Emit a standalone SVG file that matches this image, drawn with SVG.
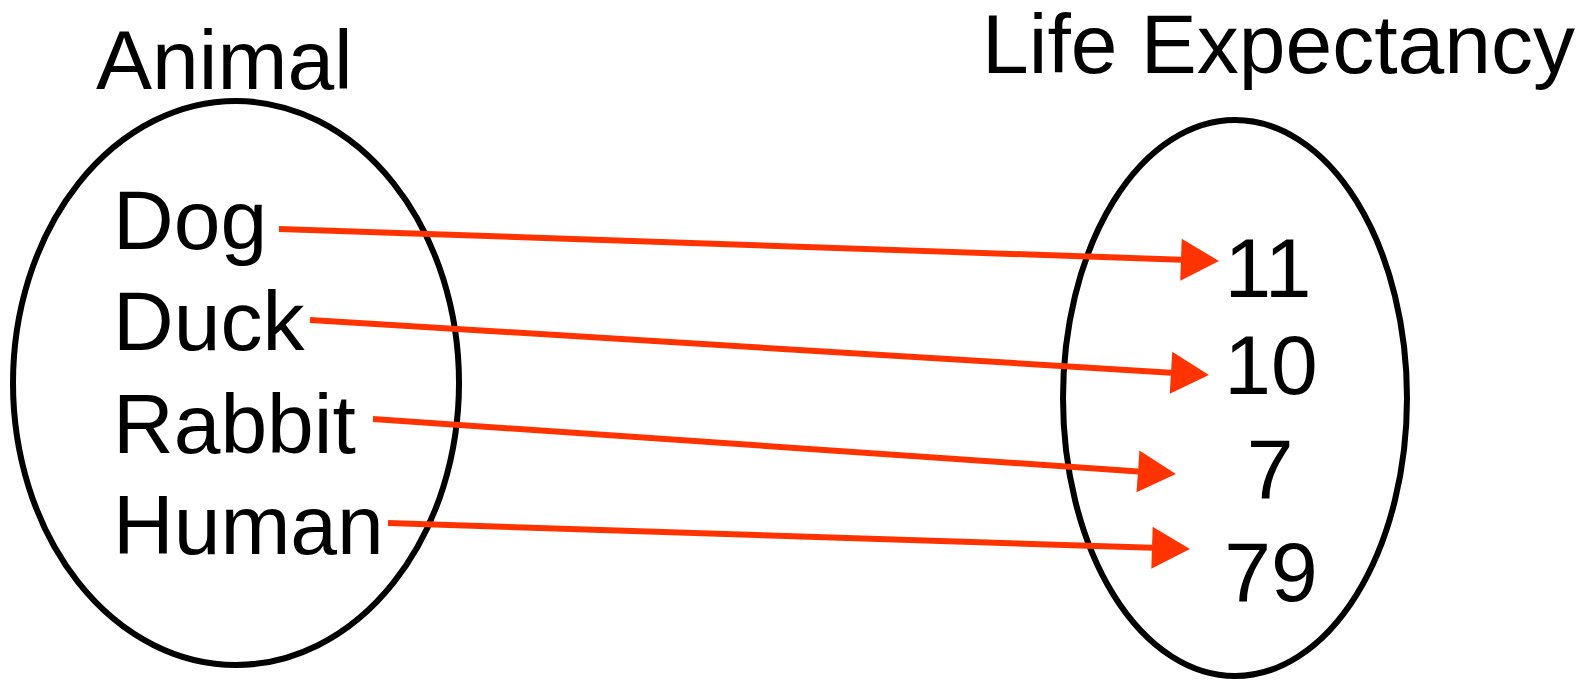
<svg xmlns="http://www.w3.org/2000/svg" width="1593" height="680" viewBox="0 0 1593 680">
<style>
text{font-family:"Liberation Sans",Arial,sans-serif;font-size:84px;fill:#000}
.set{fill:none;stroke:#000;stroke-width:6}
.arr{stroke:#FF3300;stroke-width:6;fill:none}
.num{text-anchor:middle}
</style>
<defs>
<marker id="ah" markerUnits="userSpaceOnUse" markerWidth="40" markerHeight="44" refX="0" refY="21" orient="auto" overflow="visible">
<path d="M0,0 L38,21 L0,42 z" fill="#FF3300"/>
</marker>
</defs>
<rect width="1593" height="680" fill="#fff"/>
<g id="animal">
<text x="96" y="89">Animal</text>
<ellipse class="set" cx="236" cy="383" rx="223" ry="282"/>
<text x="113" y="249">Dog</text>
<text x="113" y="350">Duck</text>
<text x="113" y="453">Rabbit</text>
<text x="113" y="554">Human</text>
</g>
<g id="life">
<text x="982" y="73">Life Expectancy</text>
<ellipse class="set" cx="1235" cy="398" rx="172" ry="278"/>
<text class="num" x="1268" y="297">11</text>
<text class="num" x="1271" y="394">10</text>
<text class="num" x="1270" y="498">7</text>
<text class="num" x="1271" y="601">79</text>
</g>
<g id="connectors">
<line class="arr" x1="279" y1="229" x2="1181" y2="259.7" marker-end="url(#ah)"/>
<line class="arr" x1="310" y1="320" x2="1171" y2="372.7" marker-end="url(#ah)"/>
<line class="arr" x1="373" y1="419" x2="1138" y2="471.4" marker-end="url(#ah)"/>
<line class="arr" x1="388" y1="523" x2="1152" y2="547.8" marker-end="url(#ah)"/>
</g>
</svg>
